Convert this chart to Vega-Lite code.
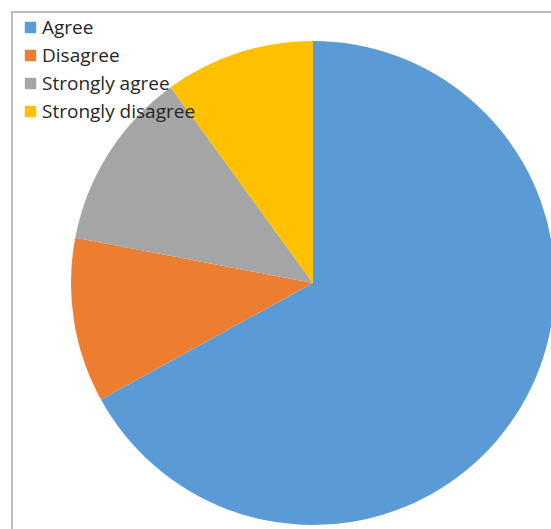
{
  "$schema": "https://vega.github.io/schema/vega-lite/v6.json",
  "autosize": "none",
  "padding": {"left": 12, "top": 12, "right": 0, "bottom": 0},
  "width": 602,
  "height": 542,
  "background": "white",
  "config": {"view": {"stroke": null}},
  "layer": [
    {
      "data": {"values": [{"frame": 1}]},
      "mark": {"type": "rect", "fill": null, "stroke": "#a6a6a6", "strokeWidth": 1.5},
      "encoding": {}
    },
    {
      "data": {"values": [
        {"response": "Agree", "value": 67},
        {"response": "Disagree", "value": 11},
        {"response": "Strongly agree", "value": 12},
        {"response": "Strongly disagree", "value": 10}
      ]},
      "mark": {"type": "arc", "outerRadius": 242},
      "encoding": {
        "theta": {"field": "value", "type": "quantitative", "stack": true},
        "order": {"field": "response", "type": "nominal"},
        "color": {
          "field": "response",
          "type": "nominal",
          "scale": {
            "domain": ["Agree", "Disagree", "Strongly agree", "Strongly disagree"],
            "range": ["#5B9BD5", "#ED7D31", "#A5A5A5", "#FFC000"]
          },
          "legend": {
            "title": null,
            "orient": "none",
            "legendX": 9,
            "legendY": 6,
            "symbolType": "square",
            "symbolSize": 130,
            "symbolStrokeWidth": 0,
            "labelFont": "Open Sans",
            "labelFontSize": 19,
            "labelColor": "#262626",
            "labelOffset": 2,
            "rowPadding": 8,
            "padding": 0
          }
        }
      }
    }
  ]
}
